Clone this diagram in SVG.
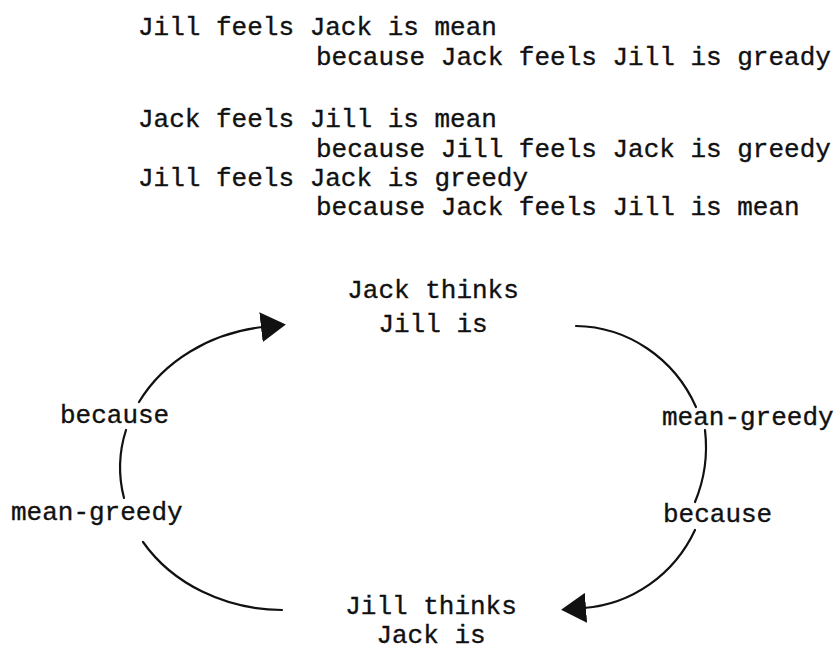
<svg xmlns="http://www.w3.org/2000/svg" width="838" height="651" viewBox="0 0 838 651">
<style>
  text { font-family: "Liberation Mono", "DejaVu Sans Mono", monospace; font-size: 26px; fill: #111; stroke: #111; stroke-width: 0.35px; }
  .mid { text-anchor: middle; }
  .arc { fill: none; stroke: #111; stroke-width: 2.2px; stroke-linecap: round; }
</style>
<defs>
  <marker id="head" viewBox="0 0 25 30" refX="2" refY="15" markerWidth="25" markerHeight="30" markerUnits="userSpaceOnUse" orient="auto">
    <path d="M0,0 L25,15 L0,30 z" fill="#111"/>
  </marker>
</defs>
<rect width="838" height="651" fill="#fff"/>
<g id="statements">
  <text x="138" y="35">Jill feels Jack is mean</text>
  <text x="316" y="65">because Jack feels Jill is gready</text>
  <text x="138" y="127">Jack feels Jill is mean</text>
  <text x="316" y="157">because Jill feels Jack is greedy</text>
  <text x="138" y="186">Jill feels Jack is greedy</text>
  <text x="316" y="215">because Jack feels Jill is mean</text>
</g>
<g id="node-jack">
  <text class="mid" x="433" y="298">Jack thinks</text>
  <text class="mid" x="433" y="332">Jill is</text>
</g>
<g id="node-jill">
  <text class="mid" x="431" y="614">Jill thinks</text>
  <text class="mid" x="431" y="643">Jack is</text>
</g>
<g id="connectors">
  <path class="arc" d="M143,542 A164,141 0 0,0 282,610"/>
  <path class="arc" d="M126,430 A164,141 0 0,0 124,498"/>
  <path class="arc" d="M139,402 A164,141 0 0,1 263,327" marker-end="url(#head)"/>
  <text x="60" y="423">because</text>
  <text x="11" y="520">mean-greedy</text>
  <path class="arc" d="M576,326 A134,139 0 0,1 696,407"/>
  <path class="arc" d="M705,430 A134,139 0 0,1 695,502"/>
  <path class="arc" d="M695,530 A134,139 0 0,1 584,608" marker-end="url(#head)"/>
  <text x="662" y="425">mean-greedy</text>
  <text x="663" y="522">because</text>
</g>
</svg>
